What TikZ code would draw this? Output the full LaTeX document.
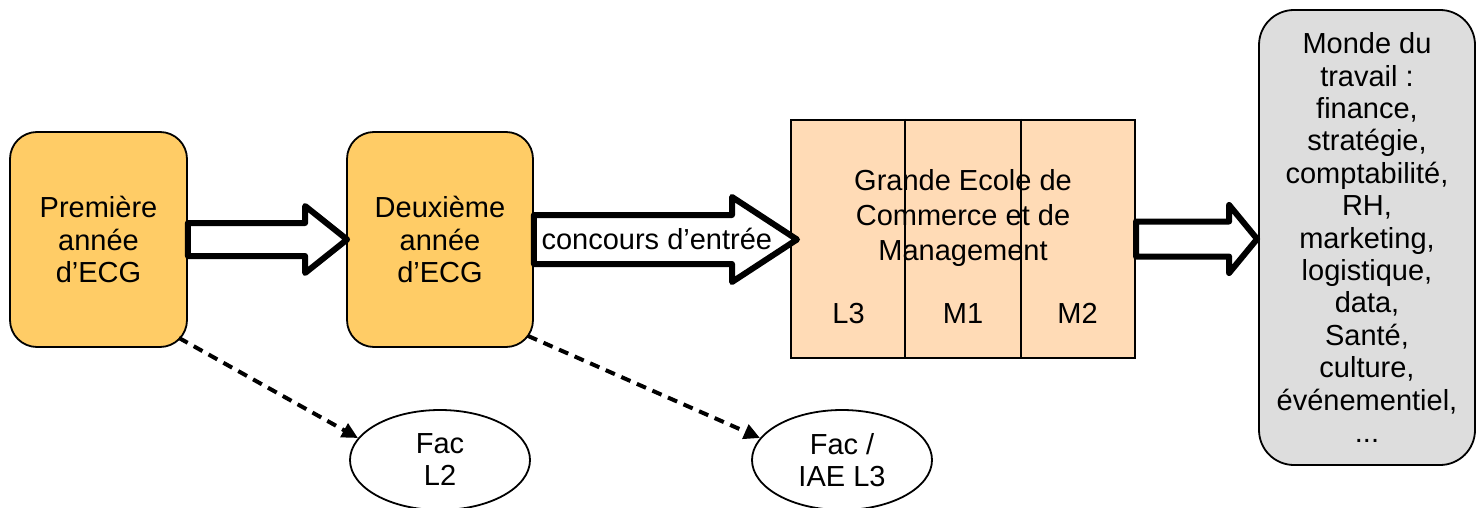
\documentclass[tikz,border=0pt]{standalone}
\usepackage{fontspec}
\setmainfont{Liberation Sans}
\usetikzlibrary{calc,shapes.geometric,arrows.meta}
\definecolor{gold}{HTML}{FFCC66}
\definecolor{peach}{HTML}{FFDBB6}
\definecolor{lightgrey}{HTML}{DDDDDD}
\tikzset{
  yearbox/.style={draw=black, line width=1.8pt, fill=gold, rounded corners=27pt,
    minimum height=215pt, align=center, inner sep=0pt,
    font=\fontsize{29}{32.5}\selectfont},
  blk/.style={draw=black, line width=6pt, fill=white, line join=round},
  txt/.style={align=center, inner sep=0pt, font=\fontsize{29}{35}\selectfont},
  facnode/.style={draw=black, line width=1.8pt, fill=white, ellipse, minimum width=180pt,
    minimum height=100pt, inner sep=0pt, align=center, font=\fontsize{29}{32}\selectfont},
  dsh/.style={draw=black, line width=4pt, dash pattern=on 10pt off 7pt,
    -{Triangle[length=16pt,width=15pt]}},
}
\begin{document}
\begin{tikzpicture}[x=1pt,y=-1pt]
\useasboundingbox (0,0) rectangle (1478,508);
% boxes
\node[yearbox, minimum width=177pt] (b1) at (98.5,239.5) {Première\\année\\d’ECG};
\node[yearbox, minimum width=186pt] (b2) at (440,239.5) {Deuxième\\année\\d’ECG};
\node[draw=black, line width=2pt, fill=peach, minimum width=344pt, minimum height=238pt,
  inner sep=0pt] (gec) at (963,239) {};
\draw[line width=2pt] ($(gec.north west)!1/3!(gec.north east)$) -- ($(gec.south west)!1/3!(gec.south east)$);
\draw[line width=2pt] ($(gec.north west)!2/3!(gec.north east)$) -- ($(gec.south west)!2/3!(gec.south east)$);
\node[txt] (gectitle) at (963,218) {Grande Ecole de\\Commerce et de\\Management};
\node[txt, anchor=base] (l3) at (848.5,323.5) {L3};
\node[txt, anchor=base] (m1) at (963,323.5) {M1};
\node[txt, anchor=base] (m2) at (1077.5,323.5) {M2};
\node[draw=black, line width=1.8pt, fill=lightgrey, rounded corners=35pt, minimum width=216pt,
  minimum height=455pt, inner sep=0pt, align=center, font=\fontsize{29}{32.4}\selectfont]
  (work) at (1367,237.5) {Monde du\\travail :\\finance,\\stratégie,\\comptabilité,\\RH,\\marketing,\\logistique,\\data,\\Santé,\\culture,\\événementiel,\\...};
\node[facnode] (f1) at (440,460) {Fac\\L2};
\node[facnode] (f2) at (842,460) {Fac /\\IAE L3};
% block arrows
\draw[blk] let \p1=(b1.east), \p2=(b2.west) in
  (\x1,\y1+16.5pt) -- (\x2-41pt,\y1+16.5pt) -- (\x2-41pt,\y1+33.5pt) -- (\x2+1pt,\y1)
  -- (\x2-41pt,\y1-33.5pt) -- (\x2-41pt,\y1-16.5pt) -- (\x1,\y1-16.5pt) -- cycle;
\draw[blk] let \p1=(b2.east), \p2=(gec.west) in
  (\x1,\y1+24.5pt) -- (\x2-58pt,\y1+24.5pt) -- (\x2-58pt,\y1+42.5pt) -- (\x2+7pt,\y1)
  -- (\x2-58pt,\y1-42.5pt) -- (\x2-58pt,\y1-24.5pt) -- (\x1,\y1-24.5pt) -- cycle;
\draw[blk] let \p1=(gec.east), \p2=(work.west) in
  (\x1,\y1+17.5pt) -- (\x2-29pt,\y1+17.5pt) -- (\x2-29pt,\y1+34pt) -- (\x2-1pt,\y1)
  -- (\x2-29pt,\y1-34pt) -- (\x2-29pt,\y1-17.5pt) -- (\x1,\y1-17.5pt) -- cycle;
\node[txt] (conc) at ($(b2.east)!0.48!(gec.west)$) {concours d’entrée};
% dashed arrows
\draw[dsh] ($(b1.south east)+(-9,-10)$) -- (f1.165);
\draw[dsh] ($(b2.south east)+(-6,-12)$) -- (f2.165);
\end{tikzpicture}
\end{document}
